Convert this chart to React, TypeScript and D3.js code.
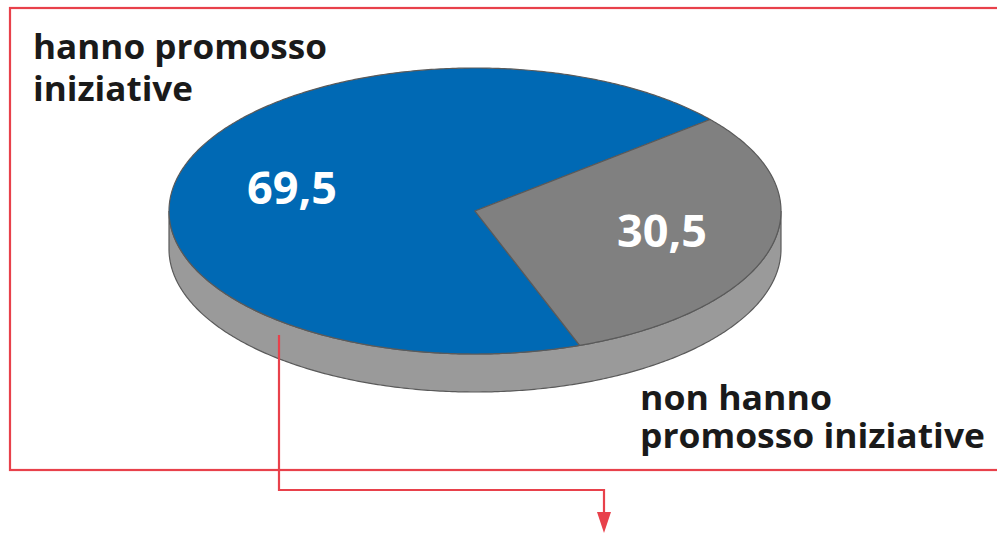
import React from "react";
import * as d3 from "d3";

const categories = ["hanno promosso iniziative", "non hanno promosso iniziative"];
const values = [69.5, 30.5];
const valueLabels = ["69,5", "30,5"];
const colors = ["#0069b4", "#808080"];

const W = 997, H = 534;
const cx = 475, cy = 211, rx = 306, ry = 143, depth = 38;
const START = (160 * Math.PI) / 180;

function proj(a: number, dy = 0): [number, number] {
  return [cx + rx * Math.sin(a), cy - ry * Math.cos(a) + dy];
}

function sample(a0: number, a1: number, dy = 0): [number, number][] {
  const n = Math.max(2, Math.ceil(Math.abs(a1 - a0) / 0.01));
  return d3.range(n + 1).map((i) => proj(a0 + ((a1 - a0) * i) / n, dy));
}

export default function App() {
  const pie = d3.pie<number>().sort(null).startAngle(START).endAngle(START + 2 * Math.PI);
  const arcs = pie(values);
  const line = d3.line();
  const font = "'Open Sans', 'Noto Sans', sans-serif";

  const sA0 = Math.PI / 2, sA1 = (3 * Math.PI) / 2;
  const sidePts = [...sample(sA0, sA1, 0), ...sample(sA1, sA0, depth)];
  const sidePath = line(sidePts) + "Z";

  const labelPos = [
    [292, 204],
    [662, 247],
  ];

  return (
    <svg width={W} height={H} style={{ position: "absolute", left: 0, top: 0, background: "#fff" }}>
      <rect x={10} y={8} width={1000} height={462} fill="none" stroke="#e8414b" strokeWidth={2.2} />
      <path d={sidePath} fill="#9a9a9a" stroke="#5a5a5a" strokeWidth={1.2} />
      {arcs.map((a, i) => {
        const pts: [number, number][] = [[cx, cy], ...sample(a.startAngle, a.endAngle)];
        return (
          <path key={i} d={line(pts) + "Z"} fill={colors[i]} stroke="#5a5a5a" strokeWidth={1.2} strokeLinejoin="round" />
        );
      })}
      {arcs.map((a, i) => (
        <text key={"l" + i} x={labelPos[i][0]} y={labelPos[i][1]} textAnchor="middle" fill="#fff"
          fontFamily={font} fontWeight={700} fontSize={44} textLength={90} lengthAdjust="spacingAndGlyphs">{valueLabels[i]}</text>
      ))}
      <text fontFamily={font} fontWeight={700} fontSize={34} fill="#1a1a1a">
        <tspan x={33} y={59} textLength={294} lengthAdjust="spacingAndGlyphs">hanno promosso</tspan>
        <tspan x={33} y={101} textLength={160} lengthAdjust="spacingAndGlyphs">iniziative</tspan>
      </text>
      <text fontFamily={font} fontWeight={700} fontSize={34} fill="#1a1a1a">
        <tspan x={640} y={410} textLength={192} lengthAdjust="spacingAndGlyphs">non hanno</tspan>
        <tspan x={640} y={448} textLength={345} lengthAdjust="spacingAndGlyphs">promosso iniziative</tspan>
      </text>
      <path d="M279,335 L279,490 L604,490 L604,515" fill="none" stroke="#e8414b" strokeWidth={2.2} />
      <path d="M597,512 L611,512 L604,533 Z" fill="#e8414b" />
    </svg>
  );
}
